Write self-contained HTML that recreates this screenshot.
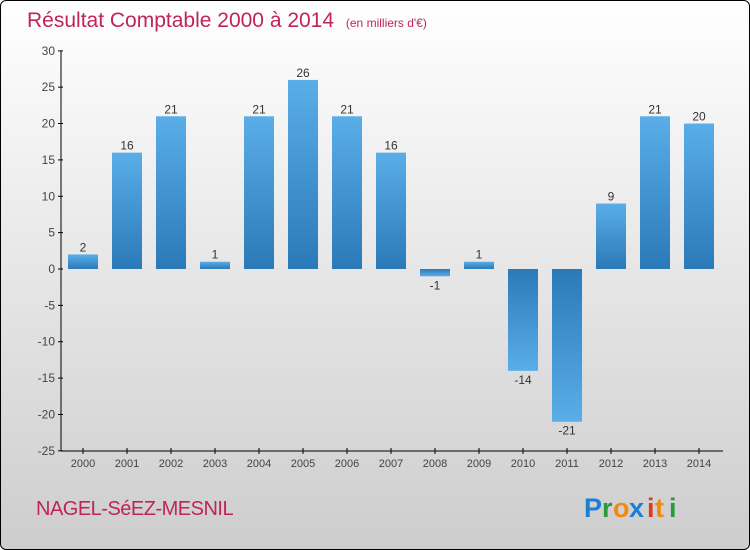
<!DOCTYPE html>
<html><head><meta charset="utf-8"><style>
body{margin:0;}
#wrap{position:relative;width:748px;height:548px;border:1px solid #000;border-radius:6px;overflow:hidden;background:linear-gradient(#ffffff,#f0f0f0 30%,#cdcdcd);font-family:"Liberation Sans",sans-serif;}
svg text{font-family:"Liberation Sans",sans-serif;}
</style></head><body>
<div id="wrap">
<svg width="748" height="548" id="chart">
<defs>
<linearGradient id="gp" x1="0" y1="0" x2="0" y2="1"><stop offset="0" stop-color="#5aaee8"/><stop offset="1" stop-color="#2a7ab8"/></linearGradient>
<linearGradient id="gn" x1="0" y1="0" x2="0" y2="1"><stop offset="0" stop-color="#2a7ab8"/><stop offset="1" stop-color="#5aaee8"/></linearGradient>
</defs>
<text x="26" y="26" font-size="21" fill="#c0245a">Résultat Comptable 2000 à 2014 <tspan font-size="12" dx="6">(en milliers d'€)</tspan></text>
<g id="grid"></g>
<g id="bars"></g>
<text x="35" y="514" font-size="20" fill="#c0245a" letter-spacing="-0.5">NAGEL-SéEZ-MESNIL</text>
<g font-size="27" font-weight="bold" font-family="Liberation Sans">
<text x="583" y="516" fill="#1a7fd4">P</text><text x="601" y="516" fill="#2a9a3a">r</text><text x="612" y="516" fill="#f08a10">o</text><text x="628" y="516" fill="#1a7fd4">x</text><text x="646" y="516" fill="#e23a20">i</text><text x="654" y="516" fill="#f08a10">t</text><text x="668" y="516" fill="#2a9a3a">i</text>
</g>
</svg>
</div>
<script>
const years=["2000","2001","2002","2003","2004","2005","2006","2007","2008","2009","2010","2011","2012","2013","2014"];
const values=[2,16,21,1,21,26,21,16,-1,1,-14,-21,9,21,20];
const yTicks=[30,25,20,15,10,5,0,-5,-10,-15,-20,-25];
const NS="http://www.w3.org/2000/svg";
const y=v=>268-v*(400/55);
const x=i=>82+i*44;
const grid=document.getElementById('grid'),bars=document.getElementById('bars');
function mk(tag,attrs,parent){const e=document.createElementNS(NS,tag);for(const k in attrs)e.setAttribute(k,attrs[k]);parent.appendChild(e);return e;}
const ax=mk('line',{x1:60,y1:50,x2:60,y2:450,stroke:'#000'},grid);


const bx=mk('line',{x1:60,y1:450,x2:722,y2:450,stroke:'#000'},grid);


yTicks.forEach(t=>{
 mk('line',{x1:57,x2:62,y1:y(t),y2:y(t),stroke:'#000'},grid);
 const tx=mk('text',{x:54,y:y(t)+4,'font-size':12,fill:'#444','text-anchor':'end'},grid);tx.textContent=t;
 
 
});
years.forEach((yr,i)=>{
 mk('line',{x1:x(i),x2:x(i),y1:447,y2:453,stroke:'#000'},grid);
 const tx=mk('text',{x:x(i),y:466,'font-size':11,fill:'#444','text-anchor':'middle'},grid);tx.textContent=yr;
 
 
 const v=values[i];
 const top=Math.min(y(v),y(0)),h=Math.abs(y(v)-y(0));
 const r=mk('rect',{x:x(i)-15,y:top,width:30,height:h,fill:v>=0?'url(#gp)':'url(#gn)'},bars);
 
 
 const lb=mk('text',{x:x(i),y:v>=0?y(v)-3:y(v)+13,'font-size':12,fill:'#333','text-anchor':'middle'},bars);lb.textContent=v;
 
 
});
</script>
</body></html>
